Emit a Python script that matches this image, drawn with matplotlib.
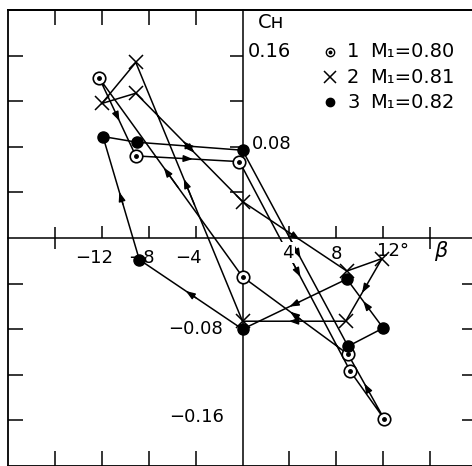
import numpy as np
import matplotlib.pyplot as plt

plt.rcParams['font.family'] = ['DejaVu Sans']

# hysteresis loops, beta in degrees, C_H
beta_1 = [-12.2, -9.1, -0.26, 9.2, 12.1, 9.0, 0.0, -12.2]
ch_1 = [0.140, 0.072, 0.067, -0.117, -0.159, -0.102, -0.034, 0.140]

beta_2 = [-12.0, -9.1, 0.0, 8.9, 11.9, 8.8, 0.0, -9.1, -12.0]
ch_2 = [0.118, 0.127, 0.032, -0.029, -0.018, -0.073, -0.073, 0.154, 0.118]

beta_3 = [-11.9, -9.0, 0.0, 9.0, 12.0, 8.9, 0.0, -8.8, -11.9]
ch_3 = [0.089, 0.084, 0.077, -0.095, -0.079, -0.036, -0.080, -0.019, 0.089]

series_num = ['1', '2', '3']
series_mach = ['M₁=0.80', 'M₁=0.81', 'M₁=0.82']

x_ticks = [-16, -12, -8, -4, 4, 8, 12, 16]
y_ticks = [-0.16, -0.12, -0.08, -0.04, 0.04, 0.08, 0.12, 0.16]


def add_arrows(ax, xs, ys):
    # small filled arrowhead in the middle of each long enough segment
    pts = ax.transData.transform(np.column_stack([xs, ys]))
    for i in range(len(xs) - 1):
        if np.hypot(*(pts[i + 1] - pts[i])) < 60:
            continue
        x0, y0, x1, y1 = xs[i], ys[i], xs[i + 1], ys[i + 1]
        ax.annotate('', xy=(x0 + 0.55 * (x1 - x0), y0 + 0.55 * (y1 - y0)),
                    xytext=(x0 + 0.45 * (x1 - x0), y0 + 0.45 * (y1 - y0)),
                    arrowprops=dict(arrowstyle='-|>,head_length=0.55,head_width=0.2',
                                    color='k', lw=1, shrinkA=0, shrinkB=0,
                                    mutation_scale=10), zorder=3)


fig = plt.figure(figsize=(4.72, 4.66), dpi=100)
rect = [8 / 472, 0, 469 / 472, 456 / 466]

# axes through the origin (behind the data)
ax_c = fig.add_axes(rect)
ax = fig.add_axes(rect, zorder=1)
ax.patch.set_visible(False)
for a in (ax_c, ax):
    a.set_xlim(-20, 20)
    a.set_ylim(-0.2, 0.2)

ax_c.patch.set_visible(False)
ax_c.spines['top'].set_visible(False)
ax_c.spines['right'].set_visible(False)
ax_c.spines['bottom'].set_position(('data', 0))
ax_c.spines['left'].set_position(('data', 0))
ax_c.spines['bottom'].set_linewidth(1.1)
ax_c.spines['left'].set_linewidth(1.1)
ax_c.set_xticks([-12, -8, -4, 4, 8, 12])
ax_c.set_xticks([-16, 16], minor=True)
ax_c.set_yticks([0.04, 0.08, 0.12, 0.16])
ax_c.tick_params(axis='x', which='major', direction='in', length=8.5, width=1.1,
                 labelbottom=False)
ax_c.tick_params(axis='x', which='minor', direction='inout', length=16, width=1.1,
                 labelbottom=False)
ax_c.tick_params(axis='y', direction='out', length=9.5, width=1.1, labelleft=False)

# outer frame
ax.set_xticks(x_ticks)
ax.set_yticks(y_ticks)
ax.tick_params(direction='in', length=11, width=1.1, labelbottom=False, labelleft=False)
for s in ax.spines.values():
    s.set_linewidth(1.3)
top = ax.secondary_xaxis('top')
top.set_xticks([t for t in x_ticks if t < 0])
top.tick_params(direction='in', length=11, width=1.1, labeltop=False, labelbottom=False)
right = ax.secondary_yaxis('right')
right.set_yticks([t for t in y_ticks if t < 0])
right.tick_params(direction='in', length=11, width=1.1, labelright=False, labelleft=False)
for s in list(top.spines.values()) + list(right.spines.values()):
    s.set_linewidth(1.3)

# loops
for xs, ys in [(beta_1, ch_1), (beta_2, ch_2), (beta_3, ch_3)]:
    ax.plot(xs, ys, color='k', lw=1.1, zorder=2)
    add_arrows(ax, xs, ys)

ax.plot(beta_1[:-1], ch_1[:-1], 'o', ms=9, mfc='white', mec='k', mew=1.2, zorder=4)
ax.plot(beta_1[:-1], ch_1[:-1], 'o', ms=2.5, color='k', zorder=5)
ax.plot(beta_2[:-1], ch_2[:-1], 'x', ms=10, mec='k', mew=1.1, zorder=4)
ax.plot(beta_3[:-1], ch_3[:-1], 'o', ms=8, color='k', zorder=4)

# axis labels
fs = 13
for v in [-12, -8, -4]:
    ax.annotate(f'−{abs(v)}', xy=(v, 0), xytext=(-5.5, -8), textcoords='offset points',
                ha='center', va='top', fontsize=fs, zorder=6)
ax.annotate('4', xy=(4, 0), xytext=(-1, -4), textcoords='offset points', ha='center',
            va='top', fontsize=fs, zorder=6,
            bbox=dict(fc='white', ec='none', pad=1))
ax.annotate('8', xy=(8, 0), xytext=(0, -5), textcoords='offset points', ha='center',
            va='top', fontsize=fs, zorder=6)
ax.annotate('12°', xy=(12, 0), xytext=(-4.5, -3), textcoords='offset points', ha='left',
            va='top', fontsize=fs, zorder=6)
ax.annotate(r'$\beta$', xy=(16, 0), xytext=(2.5, -1), textcoords='offset points',
            ha='left', va='top', fontsize=15, zorder=6)

ax.annotate('0.16', xy=(0, 0.16), xytext=(4, 2.6), textcoords='offset points',
            ha='left', va='center', fontsize=14, zorder=6)
ax.annotate('0.08', xy=(0, 0.08), xytext=(6.5, 2), textcoords='offset points',
            ha='left', va='center', fontsize=fs, zorder=6)
ax.annotate('−0.08', xy=(0, -0.08), xytext=(-14, 0), textcoords='offset points',
            ha='right', va='center', fontsize=fs, zorder=6)
ax.annotate('−0.16', xy=(0, -0.16), xytext=(-13, 2.5), textcoords='offset points',
            ha='right', va='center', fontsize=fs, zorder=6)
ax.annotate('Cн', xy=(0, 0.16), xytext=(11, 23.5), textcoords='offset points',
            ha='left', va='center', fontsize=14, zorder=6)

# legend drawn by hand
rows = [0.908, 0.853, 0.798]
ax.plot(0.687, rows[0], 'o', ms=6, mfc='white', mec='k', mew=1, transform=ax.transAxes)
ax.plot(0.687, rows[0], 'o', ms=1.8, color='k', transform=ax.transAxes)
ax.plot(0.687, rows[1], 'x', ms=9, mec='k', mew=1.1, transform=ax.transAxes)
ax.plot(0.687, rows[2], 'o', ms=6, color='k', transform=ax.transAxes)
for r, num, mach in zip(rows, series_num, series_mach):
    ax.text(0.723, r, num, transform=ax.transAxes, ha='left', va='center', fontsize=14)
    ax.text(0.772, r, mach, transform=ax.transAxes, ha='left', va='center', fontsize=14)

fig.savefig('out.png', dpi=100)
